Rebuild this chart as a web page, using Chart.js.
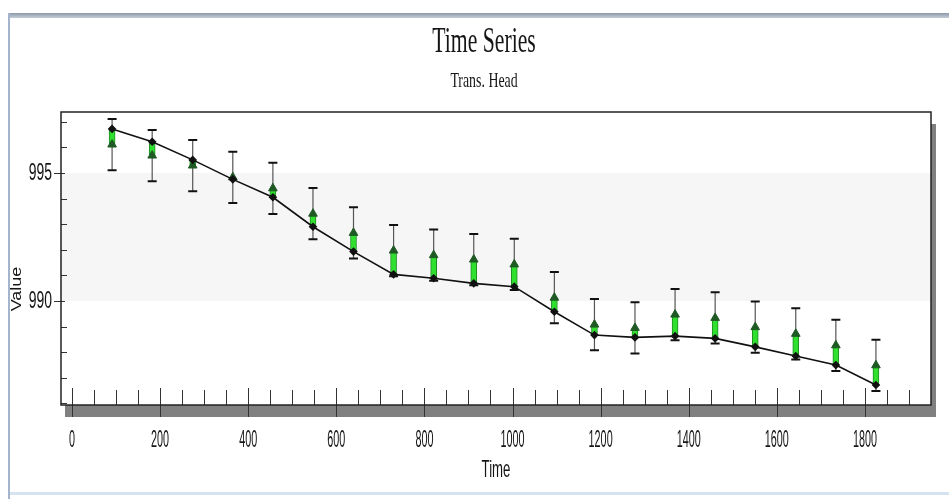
<!DOCTYPE html>
<html>
<head>
<meta charset="utf-8">
<title>Time Series</title>
<script src="https://cdn.jsdelivr.net/npm/chart.js@4.4.1/dist/chart.umd.min.js"></script>
<style>
	html, body { margin: 0; padding: 0; background: #fff; }
	#wrap { position: relative; width: 949px; height: 499px; overflow: hidden; }
	#topbar { position: absolute; left: 8px; top: 13px; width: 941px; height: 5px; background: linear-gradient(#8d99aa, #c5cdd8); }
	#leftbar { position: absolute; left: 8px; top: 13px; width: 2px; height: 486px; background: #a3b4cc; }
	#bottombar { position: absolute; left: 10px; top: 492px; width: 939px; height: 3px; background: #d4e3ef; }
	canvas { position: absolute; left: 0; top: 0; }
</style>
</head>
<body>
<div id="wrap">
	<div id="topbar"></div>
	<div id="leftbar"></div>
	<div id="bottombar"></div>
	<canvas id="graph" width="949" height="499"></canvas>
</div>
<script>
const times = [91, 182, 274, 365, 456, 547, 639, 730, 821, 912, 1004, 1095, 1186, 1278, 1369, 1460, 1551, 1643, 1734, 1825];
const computed = [996.72, 996.22, 995.51, 994.75, 994.05, 992.90, 991.93, 991.04, 990.89, 990.69,
	990.56, 989.58, 988.67, 988.58, 988.63, 988.54, 988.21, 987.85, 987.50, 986.72];
const observed = [996.11, 995.68, 995.29, 994.83, 994.40, 993.41, 992.66, 991.97, 991.79, 991.62,
	991.43, 990.13, 989.08, 988.95, 989.47, 989.34, 988.98, 988.72, 988.27, 987.49];
const interval = [1, 1, 1, 1, 1, 1, 1, 1, 1, 1, 1, 1, 1, 1, 1, 1, 1, 1, 1, 1];

const xTicks = [0, 200, 400, 600, 800, 1000, 1200, 1400, 1600, 1800];
const yTicks = [990, 995];
const titleText = 'Time Series';
const subtitleText = 'Trans. Head';
const xTitle = 'Time';
const yTitle = 'Value';
const band = [990, 995];

// text in the original is tall and narrow, so squeeze it horizontally
function squeezedText(ctx, text, x, y, font, sx, align, rotate) {
	ctx.save();
	ctx.translate(x, y);
	ctx.scale(sx, 1);
	if (rotate)
		ctx.rotate(-Math.PI / 2);
	ctx.font = font;
	ctx.textAlign = align || 'center';
	ctx.textBaseline = 'middle';
	ctx.fillStyle = '#151515';
	ctx.fillText(text, 0, 0);
	ctx.restore();
}

const framePlugin = {
	id: 'frame',
	beforeDraw(chart) {
		const {ctx, chartArea: a, scales: {y}} = chart;
		ctx.save();
		// drop shadow
		ctx.fillStyle = '#808080';
		ctx.fillRect(a.left + 4, a.top + 12, a.width + 1, a.height);
		ctx.fillStyle = '#fff';
		ctx.fillRect(a.left, a.top, a.width, a.height);
		// shaded band
		const yTop = y.getPixelForValue(band[1]);
		const yBot = y.getPixelForValue(band[0]);
		ctx.fillStyle = '#f6f6f6';
		ctx.fillRect(a.left, yTop, a.width, yBot - yTop);
		ctx.restore();
	},
	beforeDatasetsDraw(chart) {
		const {ctx, chartArea: a, scales: {x, y}} = chart;
		ctx.save();
		ctx.strokeStyle = '#333';
		ctx.lineWidth = 1;
		ctx.beginPath();
		for (let v = Math.ceil(x.min / 50) * 50; v <= x.max; v += 50) {
			const px = Math.round(x.getPixelForValue(v)) + 0.5;
			if (px >= a.right - 1) continue;
			const major = v % 200 === 0;
			ctx.moveTo(px, a.bottom - (major ? 17 : 15));
			ctx.lineTo(px, major ? a.bottom + 12 : a.bottom);
		}
		for (let v = Math.ceil(y.min); v <= y.max; v++) {
			const py = Math.round(y.getPixelForValue(v)) + 0.5;
			const major = v % 5 === 0;
			ctx.moveTo(major ? a.left - 7 : a.left, py);
			ctx.lineTo(major ? a.left + 4 : a.left + 6, py);
		}
		ctx.stroke();

		// frame
		ctx.strokeStyle = '#222';
		ctx.lineWidth = 1.5;
		ctx.strokeRect(a.left, a.top, a.width, a.height);

		// error bars around the observed heads
		times.forEach(function(t, i) {
			const px = x.getPixelForValue(t);
			const hi = y.getPixelForValue(observed[i] + interval[i]);
			const lo = y.getPixelForValue(observed[i] - interval[i]);
			ctx.strokeStyle = '#555';
			ctx.lineWidth = 1.2;
			ctx.beginPath();
			ctx.moveTo(px, hi);
			ctx.lineTo(px, lo);
			ctx.stroke();
			ctx.strokeStyle = '#111';
			ctx.lineWidth = 2;
			ctx.beginPath();
			ctx.moveTo(px - 4.5, hi);
			ctx.lineTo(px + 4.5, hi);
			ctx.moveTo(px - 4.5, lo);
			ctx.lineTo(px + 4.5, lo);
			ctx.stroke();
		});
		ctx.restore();
	},
	afterDraw(chart) {
		const {ctx, chartArea: a, scales: {x, y}} = chart;
		squeezedText(ctx, titleText, 484, 43, '35px "Liberation Serif"', 0.62);
		squeezedText(ctx, subtitleText, 484, 81, '21px "Liberation Serif"', 0.66);
		x.ticks.forEach(function(tick) {
			squeezedText(ctx, String(tick.value), x.getPixelForValue(tick.value), 440, '24px "Liberation Sans"', 0.45);
		});
		y.ticks.forEach(function(tick) {
			squeezedText(ctx, String(tick.value), a.left - 9, y.getPixelForValue(tick.value), '24px "Liberation Sans"', 0.58, 'right');
		});
		squeezedText(ctx, xTitle, (a.left + a.right) / 2, 470, '24px "Liberation Sans"', 0.55);
		squeezedText(ctx, yTitle, 17, 289, '18px "Liberation Sans"', 0.85, 'center', true);
	}
};

const chart = new Chart(document.getElementById('graph').getContext('2d'), {
	type: 'line',
	data: {
		datasets: [
			{
				type: 'line',
				label: 'Computed',
				data: times.map(function(t, i) {
					return {x: t, y: computed[i]};
				}),
				borderColor: '#111',
				borderWidth: 1.6,
				tension: 0,
				fill: false,
				pointStyle: 'rectRot',
				pointRadius: 3.2,
				pointBackgroundColor: '#111',
				pointBorderColor: '#111',
				order: 0
			},
			{
				type: 'scatter',
				label: 'Observed',
				data: times.map(function(t, i) {
					return {x: t, y: observed[i]};
				}),
				pointStyle: 'triangle',
				pointRadius: 5,
				pointBackgroundColor: '#1f5a24',
				pointBorderColor: '#1f5a24',
				order: 1
			},
			{
				type: 'bar',
				label: 'Residual',
				data: times.map(function(t, i) {
					return {x: t, y: [computed[i], observed[i]]};
				}),
				backgroundColor: '#2fe02f',
				borderColor: '#1e8a22',
				borderWidth: 1,
				borderSkipped: false,
				barThickness: 6,
				order: 2
			}
		]
	},
	options: {
		responsive: false,
		animation: false,
		events: [],
		layout: {padding: {left: 0, top: 112, right: 18, bottom: 0}},
		plugins: {
			legend: {display: false},
			tooltip: {enabled: false},
			title: {display: false}
		},
		scales: {
			x: {
				type: 'linear',
				min: -25,
				max: 1950,
				offset: false,
				grid: {display: false, drawTicks: false},
				border: {display: false},
				ticks: {display: false},
				afterBuildTicks: function(scale) {
					scale.ticks = xTicks.map(function(v) { return {value: v}; });
				},
				afterFit: function(scale) { scale.height = 94; }
			},
			y: {
				type: 'linear',
				min: 985.94,
				max: 997.38,
				beginAtZero: false,
				grid: {display: false, drawTicks: false},
				border: {display: false},
				ticks: {display: false},
				afterBuildTicks: function(scale) {
					scale.ticks = yTicks.map(function(v) { return {value: v}; });
				},
				afterFit: function(scale) { scale.width = 61; }
			}
		}
	},
	plugins: [framePlugin]
});
</script>
</body>
</html>
